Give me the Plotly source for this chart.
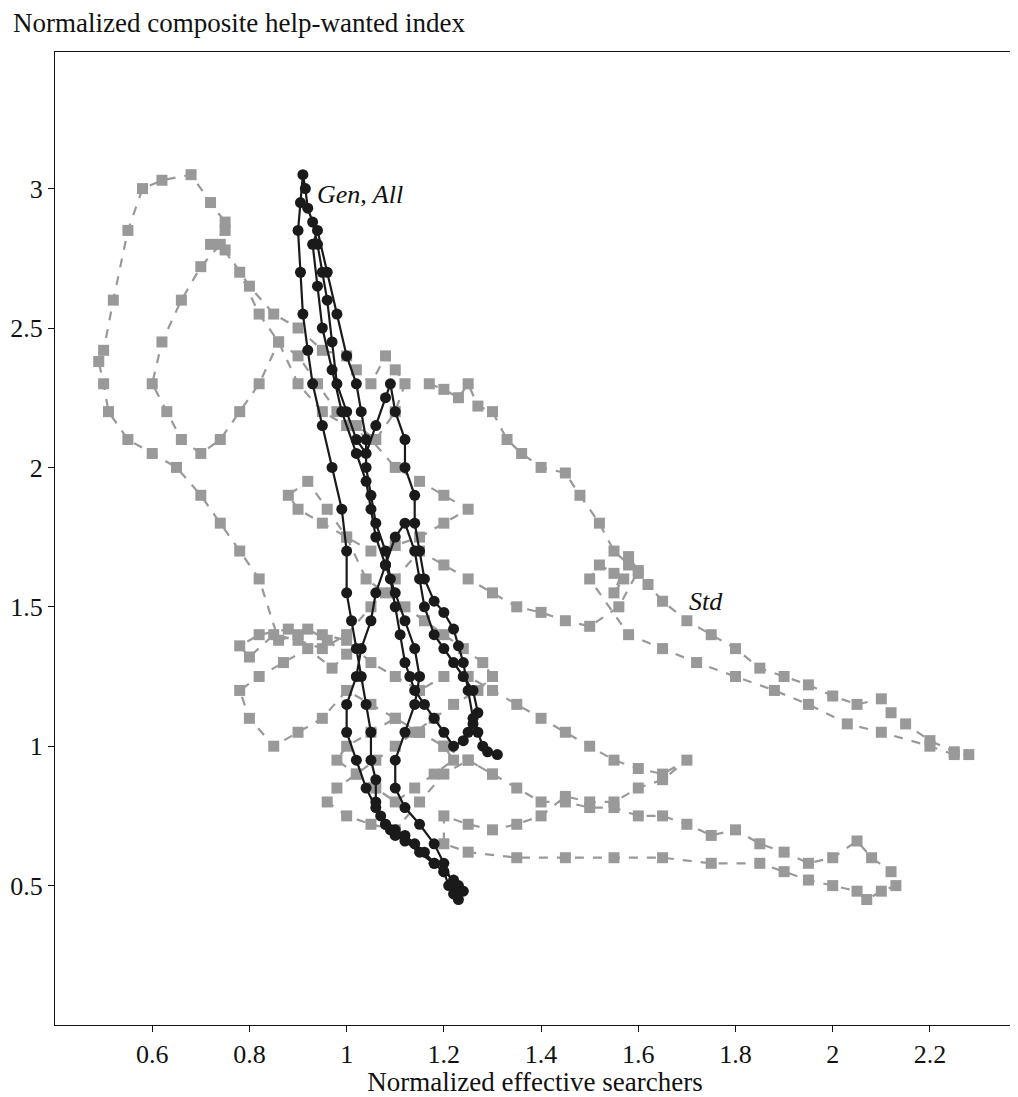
import plotly.graph_objects as go

gen_x = [1.31,1.29,1.28,1.27,1.26,1.25,1.24,1.23,1.22,1.2,1.18,1.16,1.15,1.14,1.14,1.12,1.12,1.1,1.09,1.08,1.06,1.04,1.02,1.0,0.98,0.97,0.96,0.95,0.94,0.93,0.92,0.915,0.91,0.905,0.9,0.905,0.91,0.92,0.93,0.95,0.97,0.99,1.0,1.0,1.01,1.02,1.03,1.04,1.05,1.05,1.06,1.06,1.07,1.08,1.1,1.12,1.14,1.16,1.18,1.2,1.21,1.22,1.23,1.22,1.2,1.18,1.15,1.12,1.1,1.1,1.12,1.14,1.15,1.14,1.12,1.1,1.08,1.06,1.05,1.04,1.02,0.99,0.97,0.95,0.94,0.93,0.94,0.96,0.98,1.0,1.02,1.03,1.04,1.04,1.05,1.06,1.08,1.09,1.1,1.11,1.12,1.13,1.14,1.16,1.18,1.2,1.22,1.24,1.25,1.26,1.27,1.26,1.24,1.22,1.2,1.18,1.16,1.15,1.14,1.12,1.1,1.08,1.06,1.05,1.03,1.02,1.0,1.0,1.02,1.04,1.06,1.08,1.09,1.1,1.12,1.15,1.18,1.2,1.22,1.23,1.24]
gen_y = [0.97,0.98,1.0,1.05,1.1,1.2,1.3,1.36,1.42,1.48,1.52,1.6,1.7,1.8,1.9,2.0,2.1,2.2,2.3,2.25,2.15,2.05,2.1,2.2,2.3,2.45,2.6,2.7,2.8,2.88,2.93,3.0,3.05,2.95,2.85,2.7,2.55,2.42,2.3,2.15,2.0,1.85,1.7,1.55,1.45,1.35,1.25,1.15,1.05,0.95,0.88,0.8,0.75,0.72,0.7,0.68,0.65,0.62,0.58,0.55,0.5,0.47,0.45,0.5,0.58,0.65,0.72,0.78,0.85,0.95,1.05,1.15,1.25,1.35,1.45,1.55,1.65,1.75,1.85,1.95,2.05,2.2,2.35,2.5,2.65,2.8,2.85,2.7,2.55,2.4,2.3,2.2,2.1,2.0,1.9,1.8,1.7,1.6,1.5,1.4,1.3,1.25,1.2,1.15,1.1,1.05,1.0,1.02,1.05,1.08,1.12,1.2,1.25,1.3,1.35,1.4,1.5,1.6,1.7,1.8,1.75,1.65,1.55,1.45,1.35,1.25,1.15,1.05,0.95,0.85,0.78,0.72,0.7,0.68,0.66,0.62,0.58,0.55,0.52,0.5,0.48]

std_x = [1.17,1.2,1.23,1.25,1.27,1.3,1.33,1.36,1.4,1.45,1.48,1.52,1.55,1.58,1.6,1.62,1.65,1.7,1.75,1.8,1.85,1.9,1.95,2.0,2.05,2.1,2.12,2.15,2.2,2.25,2.28,2.25,2.2,2.1,2.03,1.95,1.88,1.8,1.72,1.65,1.58,1.5,1.52,1.55,1.57,1.55,1.58,1.6,1.56,1.5,1.45,1.4,1.35,1.3,1.25,1.2,1.15,1.1,1.05,1.0,0.95,0.9,0.85,0.8,0.78,0.82,0.88,0.95,1.0,1.05,1.1,1.15,1.2,1.25,1.3,1.35,1.4,1.45,1.5,1.55,1.6,1.65,1.7,1.65,1.6,1.55,1.5,1.45,1.4,1.35,1.3,1.25,1.2,1.2,1.25,1.35,1.45,1.55,1.65,1.75,1.85,1.9,1.95,2.0,2.05,2.07,2.1,2.13,2.12,2.08,2.05,2.0,1.95,1.9,1.85,1.8,1.75,1.7,1.65,1.6,1.55,1.5,1.45,1.4,1.35,1.3,1.25,1.2,1.15,1.1,1.05,1.0,0.98,1.02,1.06,1.1,1.14,1.18,1.22,1.2,1.15,1.1,1.05,1.0,0.95,0.9,0.85,0.8,0.78,0.82,0.87,0.92,0.97,1.0,0.96,0.92,0.9,0.86,0.82,0.78,0.74,0.7,0.65,0.6,0.55,0.51,0.5,0.49,0.5,0.52,0.55,0.58,0.62,0.68,0.72,0.75,0.75,0.72,0.75,0.8,0.85,0.9,0.95,1.0,1.02,1.05,1.08,1.1,1.12,1.1,1.06,1.02,0.98,0.94,0.9,0.86,0.82,0.78,0.74,0.7,0.66,0.63,0.6,0.62,0.66,0.7,0.74,0.78,0.82,0.86,0.9,0.95,1.0,1.05,1.1,1.15,1.2,1.25,1.2,1.15,1.1,1.05,1.0,0.95,0.9,0.88,0.92,0.96,1.0,1.04,1.08,1.12,1.16,1.2,1.24,1.28,1.3,1.27,1.22,1.18,1.14,1.1,1.06,1.02,0.98,0.96,1.0,1.05,1.1,1.15,1.2,1.25,1.3]
std_y = [2.3,2.28,2.25,2.3,2.22,2.2,2.1,2.05,2.0,1.98,1.9,1.8,1.7,1.65,1.62,1.58,1.52,1.45,1.4,1.35,1.28,1.25,1.22,1.18,1.15,1.17,1.12,1.08,1.02,0.98,0.97,0.97,1.0,1.05,1.08,1.15,1.2,1.25,1.3,1.35,1.4,1.6,1.65,1.62,1.6,1.55,1.68,1.63,1.5,1.43,1.45,1.48,1.5,1.55,1.6,1.65,1.7,1.6,1.5,1.4,1.35,1.38,1.4,1.32,1.36,1.4,1.42,1.4,1.38,1.3,1.25,1.2,1.25,1.25,1.2,1.15,1.1,1.05,1.0,0.95,0.92,0.9,0.95,0.88,0.85,0.8,0.8,0.82,0.75,0.72,0.7,0.72,0.75,0.65,0.62,0.6,0.6,0.6,0.6,0.58,0.58,0.55,0.52,0.5,0.48,0.45,0.48,0.5,0.55,0.6,0.66,0.6,0.58,0.62,0.65,0.7,0.68,0.72,0.75,0.75,0.78,0.78,0.8,0.8,0.85,0.9,0.95,1.0,1.05,1.1,1.05,1.0,0.95,0.9,0.85,0.8,0.85,0.9,0.95,1.0,1.05,1.1,1.15,1.2,1.1,1.05,1.0,1.1,1.2,1.25,1.3,1.35,1.28,1.33,1.38,1.42,1.4,1.38,1.6,1.7,1.8,1.9,2.0,2.05,2.1,2.2,2.3,2.38,2.42,2.6,2.85,3.0,3.03,3.05,2.95,2.88,2.85,2.8,2.78,2.65,2.55,2.5,2.42,2.4,2.35,2.3,2.4,2.35,2.3,2.2,2.1,2.15,2.2,2.3,2.4,2.45,2.3,2.2,2.1,2.05,2.1,2.2,2.3,2.45,2.6,2.72,2.8,2.7,2.55,2.45,2.3,2.2,2.15,2.1,2.0,1.95,1.9,1.85,1.8,1.75,1.72,1.7,1.75,1.8,1.85,1.9,1.95,1.85,1.75,1.6,1.55,1.5,1.45,1.4,1.35,1.3,1.25,1.2,1.15,1.1,1.05,1.0,0.95,0.9,0.85,0.8,0.75,0.72,0.7,0.8,0.9,0.95,0.9,0.85,0.8,0.75,0.7]

fig = go.Figure()
fig.add_trace(go.Scatter(x=std_x, y=std_y, mode="lines+markers",
    line=dict(color="#999999", width=2.2, dash="dash"),
    marker=dict(symbol="square", size=11, color="#999999"), showlegend=False))
fig.add_trace(go.Scatter(x=gen_x, y=gen_y, mode="lines+markers",
    line=dict(color="#1a1a1a", width=2.2),
    marker=dict(symbol="circle", size=11, color="#1a1a1a"), showlegend=False))

font = dict(family="Liberation Serif", size=27, color="#111")
tfont = dict(family="Liberation Serif", size=26, color="#111")
fig.add_annotation(x=0.935, y=2.98, text="<i>Gen, All</i>", showarrow=False, xanchor="left", font=tfont)
fig.add_annotation(x=1.7, y=1.52, text="<i>Std</i>", showarrow=False, xanchor="left", font=tfont)
fig.add_annotation(xref="paper", yref="paper", x=-0.046, y=1.012, text="Normalized composite help-wanted index",
    showarrow=False, xanchor="left", yanchor="bottom", font=font)

ax = dict(showgrid=False, zeroline=False, showline=True, linecolor="#111", linewidth=1.2, mirror=True,
    ticks="outside", tickcolor="#111", ticklen=6, tickfont=tfont, automargin=False)
fig.update_xaxes(range=[0.4, 2.375], tickvals=[0.6,0.8,1,1.2,1.4,1.6,1.8,2,2.2],
    ticktext=["0.6","0.8","1","1.2","1.4","1.6","1.8","2","2.2"],
    title=dict(text="Normalized effective searchers", font=font, standoff=4), **ax)
fig.update_yaxes(range=[0, 3.49], tickvals=[0.5,1,1.5,2,2.5,3],
    ticktext=["0.5","1","1.5","2","2.5","3"], **ax)
fig.update_layout(width=1010, height=1089, plot_bgcolor="white", paper_bgcolor="white",
    margin=dict(l=47, r=3, t=44, b=72), font=font)
fig.write_html("out.html")
